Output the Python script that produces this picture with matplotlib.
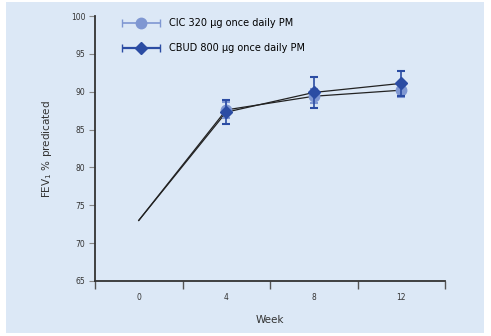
#Recreating the FEV1 over weeks chart
import matplotlib.pyplot as plt
from matplotlib.patches import Rectangle
from matplotlib.legend_handler import HandlerErrorbar
from matplotlib.container import ErrorbarContainer
import numpy as np

#Data
weeks = ['0', '4', '8', '12']
cic_values = [73.0, 87.6, 89.4, 90.2]
cic_err = [0, 1.1, 0.9, 0.9]
cbud_values = [73.0, 87.3, 89.9, 91.1]
cbud_err = [0, 1.6, 2.0, 1.6]

cic_color = '#7f97d2'
cbud_color = '#2b4ca3'
bg_color = '#dce8f6'

fig = plt.figure(figsize=(4.91, 3.36), dpi=100)
fig.patches.append(Rectangle((6 / 491, 3 / 336), 478 / 491, 331 / 336,
                             transform=fig.transFigure, facecolor=bg_color,
                             edgecolor='none', zorder=-10))
ax = fig.add_axes([95 / 491, 1 - 281 / 336, 350 / 491, 265 / 336])
ax.set_facecolor('none')

x = np.arange(len(weeks))

#Black connecting lines
ax.plot(x, cic_values, color='#222222', linewidth=0.9, zorder=2)
ax.plot(x, cbud_values, color='#222222', linewidth=0.9, zorder=2)

#Markers with error bars (not at week 0)
ax.errorbar(x[1:], cic_values[1:], yerr=cic_err[1:], fmt='o', color=cic_color,
            markersize=7.5, elinewidth=1.2, capsize=3, capthick=1.5, zorder=3)
ax.errorbar(x[1:], cbud_values[1:], yerr=cbud_err[1:], fmt='D', color=cbud_color,
            markersize=6, elinewidth=1.2, capsize=3, capthick=1.5, zorder=4)

#Legend proxies with horizontal error bars (drawn outside the view)
h1 = ax.errorbar([-10], [0], xerr=[1], fmt='o', color=cic_color, markersize=7.5,
                 elinewidth=1.2, capsize=3)
h2 = ax.errorbar([-10], [0], xerr=[1], fmt='D', color=cbud_color, markersize=6,
                 elinewidth=1.6, capsize=3)
ax.legend([h1, h2], ['CIC 320 µg once daily PM', 'CBUD 800 µg once daily PM'],
          loc='upper left', bbox_to_anchor=(0.05, 1.025), frameon=False,
          fontsize=7, handlelength=4.1, labelspacing=1.55, handletextpad=0.8,
          handler_map={ErrorbarContainer: HandlerErrorbar(xerr_size=1.95)})

#Axes styling
ax.set_xlim(-0.5, 3.5)
ax.set_ylim(65, 100)
ax.set_yticks(np.arange(65, 101, 5))
ax.set_xticks(x)
ax.set_xticklabels(weeks)
ax.set_xticks(np.arange(-0.5, 3.6, 1), minor=True)
ax.tick_params(axis='x', which='major', length=0, labelsize=5.5, pad=9,
               labelcolor='#333333')
ax.tick_params(axis='x', which='minor', length=6, width=1, color='#555555',
               direction='out')
ax.tick_params(axis='y', length=4, width=0.8, color='#888888', labelsize=5.5,
               labelcolor='#333333', pad=3)
ax.spines['top'].set_visible(False)
ax.spines['right'].set_visible(False)
ax.spines['left'].set_linewidth(1.3)
ax.spines['bottom'].set_linewidth(1.3)
ax.spines['left'].set_color('#333333')
ax.spines['bottom'].set_color('#333333')

ax.set_xlabel('Week', fontsize=7.5, color='#333333', labelpad=9)
ax.set_ylabel('FEV$_1$ % predicated', fontsize=7.5, color='#333333', labelpad=12)

plt.savefig('out.png', dpi=100)
